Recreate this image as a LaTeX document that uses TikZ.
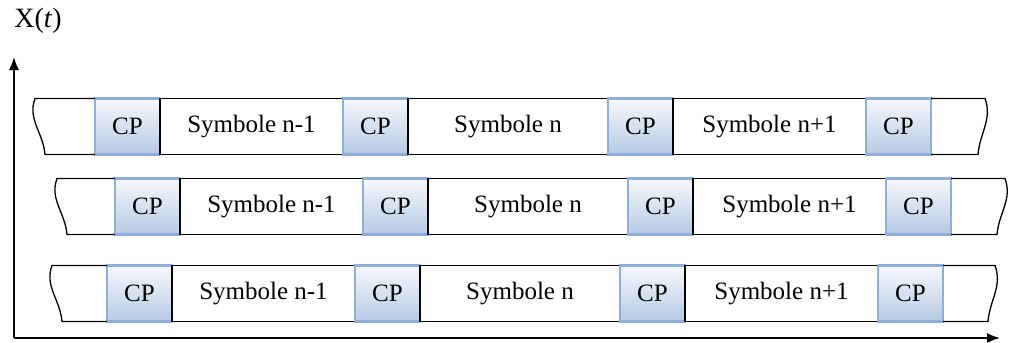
\documentclass[tikz,border=0pt]{standalone}
\usepackage{fontspec}
\setmainfont{Liberation Serif}
\usetikzlibrary{arrows.meta}
\usetikzlibrary{calc,positioning}
\definecolor{cpline}{HTML}{8FAFD8}
\definecolor{cptop}{HTML}{F7F9FC}
\definecolor{cpbot}{HTML}{B4C9E3}

\begin{document}
\begin{tikzpicture}[x=1pt, y=-1pt,
  cp/.style = {rectangle, draw=cpline, line width=2.2pt, top color=cptop, bottom color=cpbot, minimum width=65pt, minimum height=56pt, inner sep=0, outer sep=0},
  sym/.style = {rectangle, draw, line width=1.3pt, minimum height=56pt, inner sep=0, outer sep=0},
  endline/.style = {line width=1.3pt},
  timeaxis/.style = {line width=1.6pt, -{Latex[length=13pt,width=10pt]}},
  node distance=0pt, font=\fontsize{25}{30}\selectfont]

\useasboundingbox (0,0) rectangle (1013,343);

\node[font=\fontsize{28}{32}\selectfont] (xt) at (38,21) {X(\textit{t})};
\coordinate (o) at (14,338);
\coordinate (ytip) at (14,57);
\coordinate (xtip) at (1000,338);
\draw[timeaxis] (o) -- (ytip);
\draw[timeaxis] (o) -- (xtip);

\node[cp] (c11) at (127.5,126.5) {CP};
\node[sym, minimum width=183pt, right=of c11] (s11) {Symbole n-1};
\node[cp, right=of s11] (c12) {CP};
\node[sym, minimum width=200pt, right=of c12] (s12) {Symbole n};
\node[cp, right=of s12] (c13) {CP};
\node[sym, minimum width=193pt, right=of c13] (s13) {Symbole n+1};
\node[cp, right=of s13] (c14) {CP};
\draw[endline] (c11.north west) -- ++(-60,0) to[out=250,in=95] ++(10,56) -- (c11.south west);
\draw[endline] (c14.north east) -- ++(54,0) to[out=290,in=85] ++(-7,56) -- (c14.south east);

\node[cp] (c21) at (147.5,206.5) {CP};
\node[sym, minimum width=183pt, right=of c21] (s21) {Symbole n-1};
\node[cp, right=of s21] (c22) {CP};
\node[sym, minimum width=200pt, right=of c22] (s22) {Symbole n};
\node[cp, right=of s22] (c23) {CP};
\node[sym, minimum width=193pt, right=of c23] (s23) {Symbole n+1};
\node[cp, right=of s23] (c24) {CP};
\draw[endline] (c21.north west) -- ++(-58,0) to[out=250,in=95] ++(10,56) -- (c21.south west);
\draw[endline] (c24.north east) -- ++(54,0) to[out=290,in=85] ++(-8,56) -- (c24.south east);

\node[cp] (c31) at (139.5,293.5) {CP};
\node[sym, minimum width=183pt, right=of c31] (s31) {Symbole n-1};
\node[cp, right=of s31] (c32) {CP};
\node[sym, minimum width=200pt, right=of c32] (s32) {Symbole n};
\node[cp, right=of s32] (c33) {CP};
\node[sym, minimum width=193pt, right=of c33] (s33) {Symbole n+1};
\node[cp, right=of s33] (c34) {CP};
\draw[endline] (c31.north west) -- ++(-55,0) to[out=250,in=95] ++(10,56) -- (c31.south west);
\draw[endline] (c34.north east) -- ++(52,0) to[out=290,in=85] ++(-7,56) -- (c34.south east);

\end{tikzpicture}
\end{document}
